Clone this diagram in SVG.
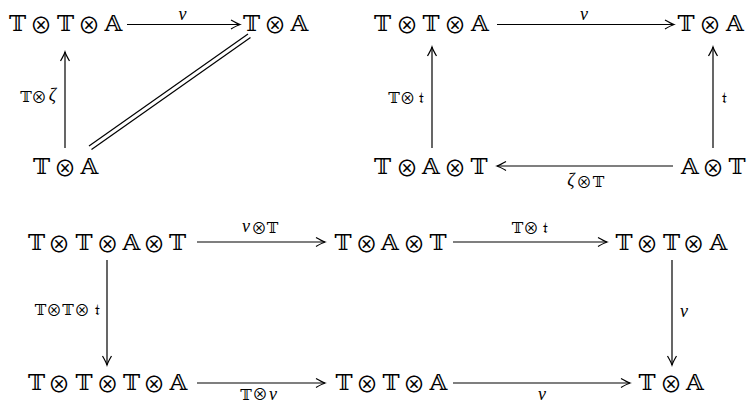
<svg xmlns="http://www.w3.org/2000/svg" width="747" height="405" viewBox="0 0 747 405">
<style>
text{text-anchor:middle;fill:#000}
.n{font-family:"DejaVu Serif",serif;font-size:23px}
.l{font-family:"DejaVu Serif",serif;font-size:15.5px}
.n .o{font-family:"Noto Sans CJK SC","DejaVu Sans",sans-serif;font-size:22px}
.l .o{font-family:"Noto Sans CJK SC","DejaVu Sans",sans-serif;font-size:15.5px}
.g{font-family:"Liberation Serif",serif;font-style:italic;font-size:18px}
.e{stroke:#000;stroke-width:1.2;fill:none}
</style>
<defs>
<marker id="ah" markerWidth="12" markerHeight="12" refX="0" refY="0" viewBox="-10 -6 12 12" orient="auto" markerUnits="userSpaceOnUse">
<path d="M-9,-4.5 Q-3,-1 0,0 Q-3,1 -9,4.5" stroke="#000" stroke-width="1.2" fill="none"/>
</marker>
</defs>
<rect width="747" height="405" fill="#fff"/>
<g id="d1-ttta"><text class="n"><tspan x="17.5" y="31">𝕋</tspan><tspan class="o" x="41" y="33">⊗</tspan><tspan x="65.5" y="31">𝕋</tspan><tspan class="o" x="89" y="33">⊗</tspan><tspan x="113.5" y="31">𝔸</tspan></text></g>
<g id="d1-ta-top"><text class="n"><tspan x="251.5" y="31">𝕋</tspan><tspan class="o" x="275" y="33">⊗</tspan><tspan x="299.5" y="31">𝔸</tspan></text></g>
<g id="d1-ta-bot"><text class="n"><tspan x="41.5" y="174">𝕋</tspan><tspan class="o" x="65" y="176">⊗</tspan><tspan x="89.5" y="174">𝔸</tspan></text></g>
<g id="d2-tta"><text class="n"><tspan x="382.5" y="31">𝕋</tspan><tspan class="o" x="407" y="33">⊗</tspan><tspan x="431" y="31">𝕋</tspan><tspan class="o" x="455" y="33">⊗</tspan><tspan x="480" y="31">𝔸</tspan></text></g>
<g id="d2-ta"><text class="n"><tspan x="686" y="31">𝕋</tspan><tspan class="o" x="710" y="33">⊗</tspan><tspan x="735" y="31">𝔸</tspan></text></g>
<g id="d2-tat"><text class="n"><tspan x="382.5" y="174">𝕋</tspan><tspan class="o" x="407" y="176">⊗</tspan><tspan x="431" y="174">𝔸</tspan><tspan class="o" x="455" y="176">⊗</tspan><tspan x="479" y="174">𝕋</tspan></text></g>
<g id="d2-at"><text class="n"><tspan x="690" y="174">𝔸</tspan><tspan class="o" x="713" y="176">⊗</tspan><tspan x="737" y="174">𝕋</tspan></text></g>
<g id="d3-ttat"><text class="n"><tspan x="36.5" y="250">𝕋</tspan><tspan class="o" x="59" y="252">⊗</tspan><tspan x="84" y="250">𝕋</tspan><tspan class="o" x="107.5" y="252">⊗</tspan><tspan x="131.5" y="250">𝔸</tspan><tspan class="o" x="154" y="252">⊗</tspan><tspan x="177.5" y="250">𝕋</tspan></text></g>
<g id="d3-tat"><text class="n"><tspan x="343" y="250">𝕋</tspan><tspan class="o" x="366.5" y="252">⊗</tspan><tspan x="390" y="250">𝔸</tspan><tspan class="o" x="414" y="252">⊗</tspan><tspan x="438" y="250">𝕋</tspan></text></g>
<g id="d3-tta-top"><text class="n"><tspan x="624" y="250">𝕋</tspan><tspan class="o" x="647" y="252">⊗</tspan><tspan x="671.5" y="250">𝕋</tspan><tspan class="o" x="693.5" y="252">⊗</tspan><tspan x="718.5" y="250">𝔸</tspan></text></g>
<g id="d3-ttta"><text class="n"><tspan x="36.5" y="390">𝕋</tspan><tspan class="o" x="59" y="392">⊗</tspan><tspan x="84" y="390">𝕋</tspan><tspan class="o" x="107.5" y="392">⊗</tspan><tspan x="131.5" y="390">𝕋</tspan><tspan class="o" x="154" y="392">⊗</tspan><tspan x="178.5" y="390">𝔸</tspan></text></g>
<g id="d3-tta-bot"><text class="n"><tspan x="344" y="390">𝕋</tspan><tspan class="o" x="367" y="392">⊗</tspan><tspan x="391" y="390">𝕋</tspan><tspan class="o" x="414" y="392">⊗</tspan><tspan x="438.5" y="390">𝔸</tspan></text></g>
<g id="d3-ta"><text class="n"><tspan x="647" y="390">𝕋</tspan><tspan class="o" x="671" y="392">⊗</tspan><tspan x="695" y="390">𝔸</tspan></text></g>
<g id="connectors">
<line class="e" x1="127" y1="24.5" x2="240" y2="24.5" marker-end="url(#ah)"/>
<line class="e" x1="65" y1="148" x2="65" y2="52" marker-end="url(#ah)"/>
<line class="e" x1="89" y1="146" x2="248" y2="34"/>
<line class="e" x1="91.5" y1="149.5" x2="250.5" y2="37.5"/>
<line class="e" x1="497" y1="24.5" x2="674" y2="24.5" marker-end="url(#ah)"/>
<line class="e" x1="432" y1="148" x2="432" y2="47" marker-end="url(#ah)"/>
<line class="e" x1="713" y1="148" x2="713" y2="47" marker-end="url(#ah)"/>
<line class="e" x1="673" y1="166" x2="497" y2="166" marker-end="url(#ah)"/>
<line class="e" x1="197" y1="242" x2="325" y2="242" marker-end="url(#ah)"/>
<line class="e" x1="453" y1="242" x2="607" y2="242" marker-end="url(#ah)"/>
<line class="e" x1="107" y1="260" x2="107" y2="365" marker-end="url(#ah)"/>
<line class="e" x1="672" y1="260" x2="672" y2="365" marker-end="url(#ah)"/>
<line class="e" x1="197" y1="383" x2="325" y2="383" marker-end="url(#ah)"/>
<line class="e" x1="453" y1="383" x2="630" y2="383" marker-end="url(#ah)"/>
<text class="g" x="182.5" y="20">ν</text>
<text class="l"><tspan x="26" y="102">𝕋</tspan><tspan class="o" x="39" y="103">⊗</tspan><tspan class="g" x="52.5" y="101">ζ</tspan></text>
<text class="g" x="584" y="20">ν</text>
<text class="l"><tspan x="394" y="103">𝕋</tspan><tspan class="o" x="407.5" y="104">⊗</tspan><tspan x="421.5" y="103">𝔱</tspan></text>
<text class="l" x="724.5" y="103">𝔱</text>
<text class="l"><tspan class="g" x="571" y="186">ζ</tspan><tspan class="o" x="584" y="188">⊗</tspan><tspan x="598.5" y="187">𝕋</tspan></text>
<text class="l"><tspan class="g" x="246" y="232">ν</tspan><tspan class="o" x="259" y="234">⊗</tspan><tspan x="272.5" y="233">𝕋</tspan></text>
<text class="l"><tspan x="517.5" y="233">𝕋</tspan><tspan class="o" x="531" y="234">⊗</tspan><tspan x="545" y="233">𝔱</tspan></text>
<text class="l"><tspan x="40.5" y="315">𝕋</tspan><tspan class="o" x="54" y="316">⊗</tspan><tspan x="68" y="315">𝕋</tspan><tspan class="o" x="82" y="316">⊗</tspan><tspan x="97" y="315">𝔱</tspan></text>
<text class="g" x="684" y="317">ν</text>
<text class="l"><tspan x="246" y="400">𝕋</tspan><tspan class="o" x="260" y="400">⊗</tspan><tspan class="g" x="273" y="400">ν</tspan></text>
<text class="g" x="542" y="400">ν</text>
</g>
</svg>
